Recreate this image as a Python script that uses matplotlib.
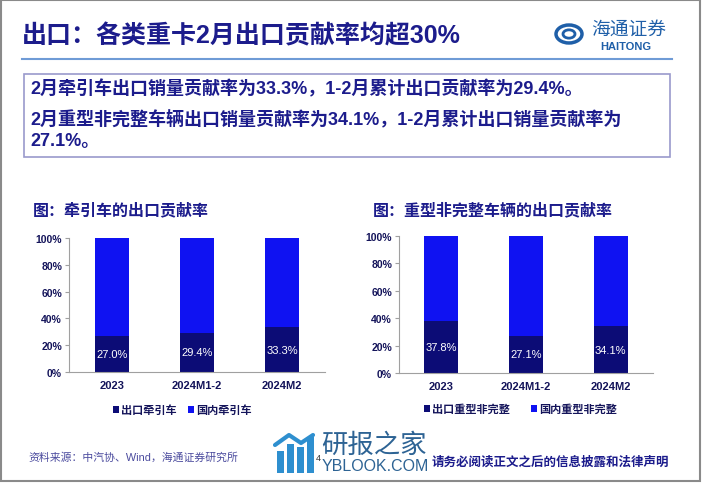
import numpy as np
import matplotlib.pyplot as plt
from matplotlib.patches import Rectangle, Circle
from matplotlib.lines import Line2D

# === DATA ===
categories = ["2023", "2024M1-2", "2024M2"]
tractor_export = [27.0, 29.4, 33.3]       # 出口牵引车 (%)
chassis_export = [37.8, 27.1, 34.1]       # 出口重型非完整 (%)
tractor_domestic = [100 - v for v in tractor_export]
chassis_domestic = [100 - v for v in chassis_export]
yticks = [0, 20, 40, 60, 80, 100]

title = "出口：各类重卡2月出口贡献率均超30%"
bullets = [
    "2月牵引车出口销量贡献率为33.3%，1-2月累计出口贡献率为29.4%。",
    "2月重型非完整车辆出口销量贡献率为34.1%，1-2月累计出口销量贡献率为",
    "27.1%。",
]
chart_titles = ["图：牵引车的出口贡献率", "图：重型非完整车辆的出口贡献率"]
legend_labels = [["出口牵引车", "国内牵引车"], ["出口重型非完整", "国内重型非完整"]]
source = "资料来源：中汽协、Wind，海通证券研究所"
disclaimer = "请务必阅读正文之后的信息披露和法律声明"

# === STYLE ===
W, H = 702, 485
NAVY = "#1c1c8c"
DARK = "#0c0c76"
BLUE = "#0f12f2"
WM = "#2d6394"
WM2 = "#2e8fcf"
FONT = ["Liberation Sans", "Noto Sans CJK SC", "DejaVu Sans"]
plt.rcParams["font.family"] = FONT


def fx(x):
    return x / W


def fy(y):
    return 1 - y / H


fig = plt.figure(figsize=(W / 100, H / 100), dpi=100)

# slide border
fig.patches.append(Rectangle((fx(1), fy(482)), fx(699), 481 / H, transform=fig.transFigure,
                             fill=False, edgecolor="#8a8a8a", lw=1.5))

# header
fig.text(fx(22), fy(36), title, fontsize=18, fontweight="bold", color=NAVY, va="center")
fig.add_artist(Line2D([fx(22), fx(672)], [fy(60), fy(60)], color="#6f9bd6", lw=1.5))

# logo
fig.patches.append(Circle((fx(569), fy(35)), 13 / W, transform=fig.transFigure,
                          fill=False, edgecolor="#1f5fa8", lw=2.5))
fig.patches.append(Circle((fx(569), fy(35)), 6 / W, transform=fig.transFigure,
                          fill=False, edgecolor="#1f5fa8", lw=2))
fig.text(fx(591), fy(30), "海通证券", fontsize=13.5, color="#1f5fa8", va="center",
         fontstyle="italic")
fig.text(fx(600), fy(47), "HAITONG", fontsize=8, color="#1f5fa8", va="center",
         fontweight="bold")

# summary box
fig.patches.append(Rectangle((fx(24), fy(158)), (670 - 24) / W, (158 - 75) / H,
                             transform=fig.transFigure, fill=False,
                             edgecolor="#9a9acc", lw=1.2))
for txt, y in zip(bullets, [89, 119, 142]):
    fig.text(fx(30), fy(y), txt, fontsize=13, fontweight="bold", color=NAVY, va="center")

# === CHARTS ===
panels = [
    dict(left=69, right=325, top=239, bottom=373, title_x=33,
         export=tractor_export, domestic=tractor_domestic, legx=(118, 193), legy=411),
    dict(left=399, right=653, top=237, bottom=374, title_x=373,
         export=chassis_export, domestic=chassis_domestic, legx=(429, 536), legy=410),
]

for i, p in enumerate(panels):
    ax = fig.add_axes([fx(p["left"]), fy(p["bottom"]),
                       (p["right"] - p["left"]) / W, (p["bottom"] - p["top"]) / H])
    x = np.arange(len(categories))
    b1 = ax.bar(x, p["export"], width=0.4, color=DARK, label=legend_labels[i][0])
    b2 = ax.bar(x, p["domestic"], width=0.4, bottom=p["export"], color=BLUE,
                label=legend_labels[i][1])
    for xi, v in zip(x, p["export"]):
        ax.text(xi, v / 2, f"{v:.1f}%", ha="center", va="center", color="white", fontsize=8)
    ax.set_xlim(-0.5, len(categories) - 0.5)
    ax.set_ylim(0, 100)
    ax.set_yticks(yticks)
    ax.set_yticklabels([f"{t}%" for t in yticks])
    ax.set_xticks(x)
    ax.set_xticklabels(categories)
    for sp in ["top", "right"]:
        ax.spines[sp].set_visible(False)
    for sp in ["left", "bottom"]:
        ax.spines[sp].set_color("#a0a0a0")
    ax.tick_params(axis="y", length=3, color="#a0a0a0", labelsize=7.5, labelcolor="#14145a", pad=2)
    ax.tick_params(axis="x", length=0, labelsize=8, labelcolor="#14145a", pad=6)
    for lab in ax.get_xticklabels() + ax.get_yticklabels():
        lab.set_fontweight("bold")

    fig.text(fx(p["title_x"]), fy(210), chart_titles[i], fontsize=11.5, fontweight="bold",
             color=NAVY, va="center")

    # legend entries
    for j, (h, lab) in enumerate([(b1, legend_labels[i][0]), (b2, legend_labels[i][1])]):
        lx = p["legx"][j]
        fig.legend([h], [lab], loc="center left",
                   bbox_to_anchor=(fx(lx - 5), fy(p["legy"])), frameon=False,
                   handlelength=0.55, handleheight=0.55, handletextpad=0.2,
                   borderpad=0, borderaxespad=0,
                   prop=dict(size=8, weight="bold", family=FONT),
                   labelcolor="#14145a")

# footer
fig.text(fx(28), fy(458), source, fontsize=7.8, color="#4b4b9e", va="center")
fig.text(fx(432), fy(463), disclaimer, fontsize=9, fontweight="bold", color=NAVY, va="center")

# watermark
for k, top in enumerate([452, 445, 448, 438]):
    fig.patches.append(Rectangle((fx(277 + k * 10), fy(474)), 7 / W, (474 - top) / H,
                                 transform=fig.transFigure, color=WM2, lw=0))
fig.add_artist(Line2D([fx(275), fx(289), fx(301), fx(313)],
                      [fy(446), fy(436), fy(444), fy(436)], color=WM2, lw=3,
                      solid_capstyle="round"))
fig.text(fx(321), fy(446), "研报之家", fontsize=19, color=WM, va="center")
fig.text(fx(322), fy(467), "YBLOOK.COM", fontsize=11.5, color=WM, va="center")
fig.text(fx(316), fy(459), "4", fontsize=6.5, color="#333333", va="center")

fig.savefig("out.png", dpi=100)
